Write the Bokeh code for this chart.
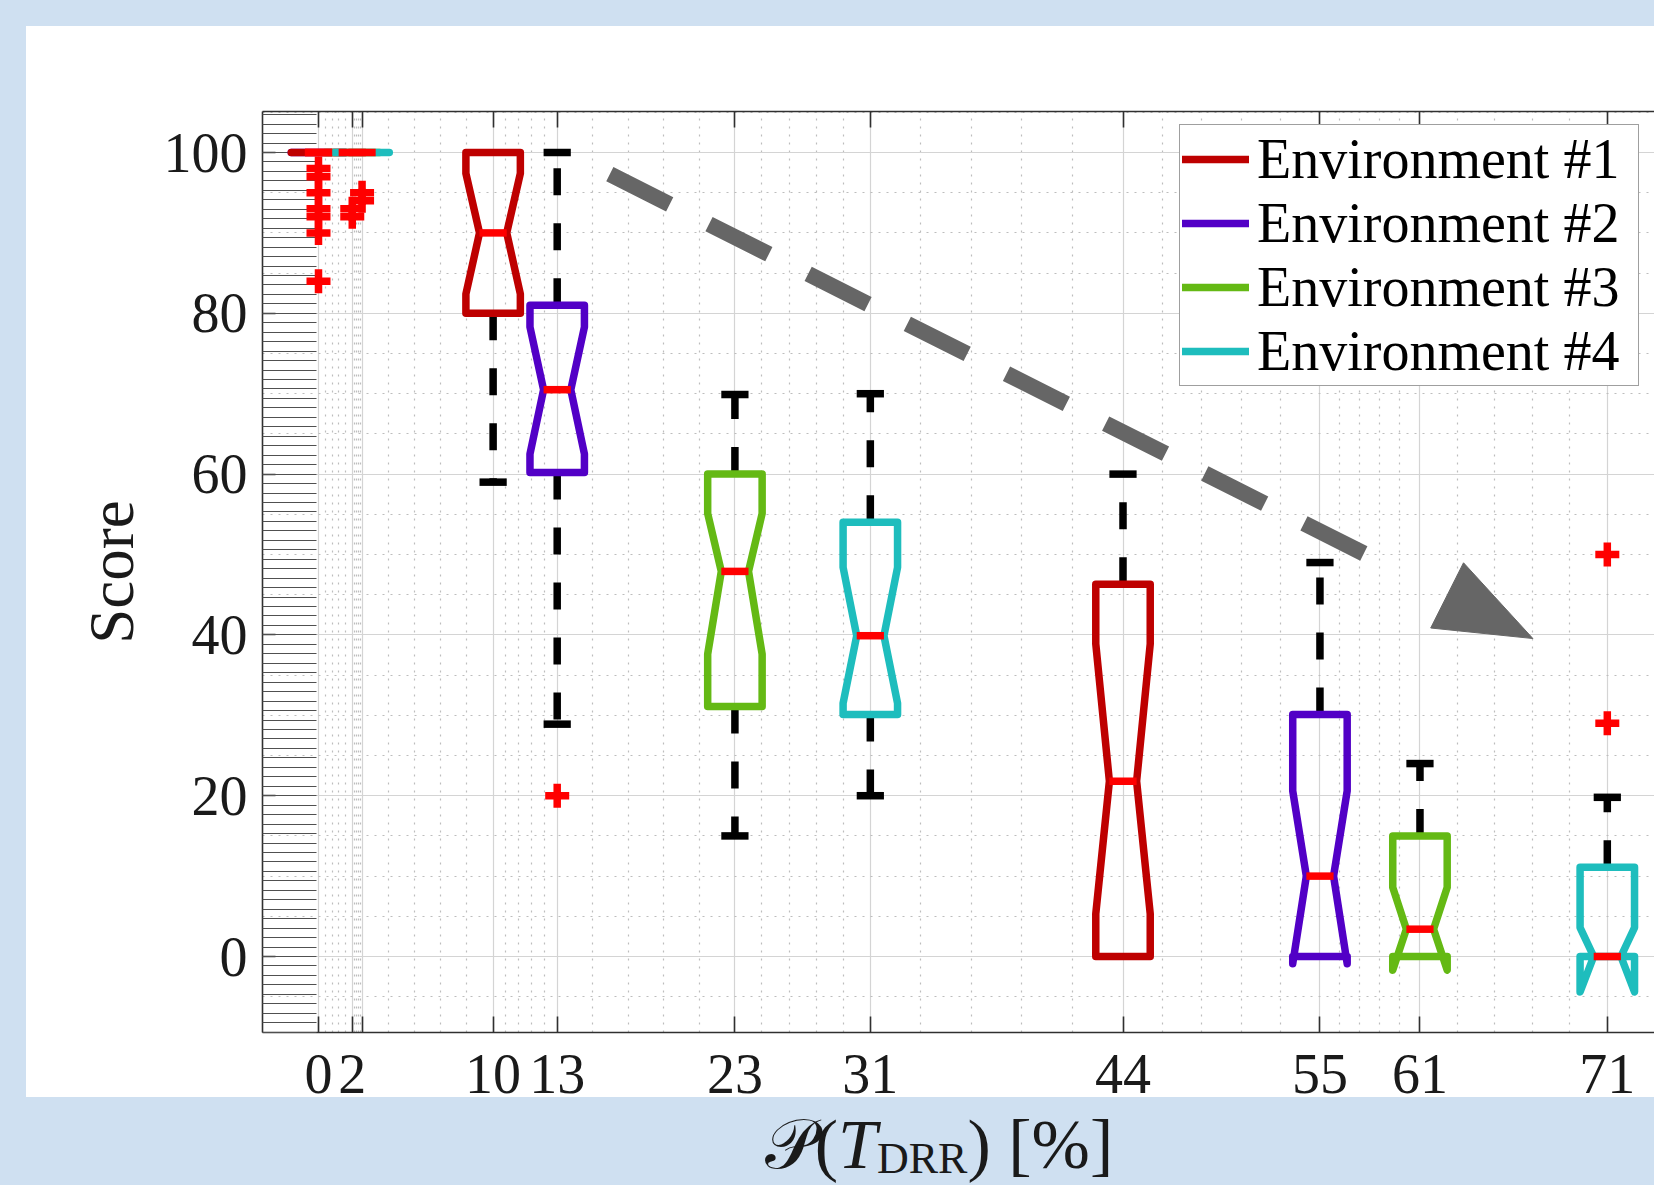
import math
from bokeh.plotting import figure
from bokeh.layouts import column
from bokeh.models import (Range1d, FixedTicker, SingleIntervalTicker, LinearAxis, Legend,
                          LegendItem, Arrow, ColumnDataSource, Div)
from bokeh.embed import file_html
from bokeh.resources import INLINE

# ---------------- data ----------------
env_names = ["Environment #1", "Environment #2", "Environment #3", "Environment #4"]
env_colors = ["#BE0000", "#5200C6", "#64B914", "#1EBDBD"]

tick_pos = [0.0, 1.86, 2.4, 9.62, 13.15, 22.94, 30.4, 44.32, 55.17, 60.68, 71.0]
tick_labels = ["0", "2", "", "10", "13", "23", "31", "44", "55", "61", "71"]

box_env = [1, 0, 2, 3, 0, 1, 2, 3, 0, 1, 2, 3]
box_x = [0.0, 0.0, 1.86, 2.4, 9.62, 13.15, 22.94, 30.4, 44.32, 55.17, 60.68, 71.0]
box_q1 = [100, 100, 100, 100, 80.0, 60.2, 31.1, 30.1, 0.0, 0.0, 0.0, 0.0]
box_q3 = [100, 100, 100, 100, 100.0, 81.0, 60.0, 54.0, 46.3, 30.1, 15.0, 11.1]
box_med = [100, 100, 100, 100, 90.0, 70.5, 47.9, 39.9, 21.8, 10.0, 3.4, 0.0]
notch_lo = [100, 100, 100, 100, 82.4, 62.5, 37.6, 31.5, 5.3, -0.9, -1.7, -4.4]
notch_hi = [100, 100, 100, 100, 97.4, 78.3, 55.1, 48.4, 38.9, 20.6, 8.6, 3.6]
whisk_lo = [100, 100, 100, 100, 59.0, 28.9, 15.0, 20.0, 0.0, 0.0, 0.0, 0.0]
whisk_hi = [100, 100, 100, 100, 100.0, 100.0, 69.9, 70.0, 60.0, 49.0, 24.0, 19.8]

out_x = [0.0, 0.0, 0.0, 0.0, 0.0, 0.0, 0.0, 1.86, 1.86, 2.4, 2.4, 13.15, 71.0, 71.0]
out_y = [98, 97, 95, 93, 92, 90, 84, 93, 92, 95, 94, 20, 29, 50]

arrow_from = (16.05, 97.3)
arrow_to = (66.9, 39.55)
ARROW_SHAFT_FRAC = 0.817   # dashed shaft stops short of the head
HEAD_LEN, HEAD_HALF_W = 96.0, 36.5   # screen px

BOX_W = 3.0
NOTCH_W = 1.5
CAP_W = 1.5

X0, X1 = -3.085, 73.6
Y0, Y1 = -9.45, 105.1
FRAME_L, FRAME_T, FRAME_B, W, H = 262, 111, 1032, 1654, 1185
FIG_H = 1122

FONT = "Liberation Serif"

# ---------------- figure ----------------
p = figure(width=W, height=FIG_H, output_backend="svg", toolbar_location=None,
           x_range=Range1d(X0, X1), y_range=Range1d(Y0, Y1),
           min_border_left=FRAME_L, min_border_right=0, min_border_top=FRAME_T,
           min_border_bottom=FIG_H - FRAME_B,
           background_fill_color="white", border_fill_alpha=0.0,
           outline_line_color=None)

# tickers
minor_x = []
for a, b in zip(tick_pos[:-1], tick_pos[1:]):
    minor_x += [a + (b - a) * k / 5.0 for k in range(1, 5)]
xticker = FixedTicker(ticks=tick_pos, minor_ticks=minor_x)

xa = p.xaxis[0]
xa.ticker = xticker
xa.major_label_overrides = {t: l for t, l in zip(tick_pos, tick_labels)}
ya = p.yaxis[0]
ya.ticker = SingleIntervalTicker(interval=20, num_minor_ticks=17)

for ax in (xa, ya):
    ax.axis_line_color = "#303030"
    ax.axis_line_width = 1.6
    ax.major_tick_line_color = "#303030"
    ax.major_tick_line_width = 1.6
    ax.major_tick_out = 0
    ax.minor_tick_out = 0
    ax.major_label_text_font = FONT
    ax.major_label_text_font_size = "56px"
    ax.major_label_text_color = "#1a1a1a"
    ax.axis_label_text_font = FONT
    ax.axis_label_text_font_style = "normal"
    ax.axis_label_text_color = "#1a1a1a"

xa.major_tick_in = 16
xa.minor_tick_in = 0
xa.major_label_standoff = 22
ya.major_tick_in = 13
ya.minor_tick_in = 54
ya.minor_tick_line_color = "#505050"
ya.minor_tick_line_width = 1.2
ya.major_label_standoff = 15
ya.axis_label = "Score"
ya.axis_label_text_font_size = "63px"
ya.axis_label_standoff = 14

top = LinearAxis(ticker=xticker, major_tick_in=16, major_tick_out=0, minor_tick_in=0,
                 minor_tick_out=0, axis_line_color="#303030", axis_line_width=1.6,
                 major_tick_line_color="#303030", major_tick_line_width=1.6,
                 major_label_overrides={t: "" for t in tick_pos})
p.add_layout(top, "above")

# grids
p.xgrid.ticker = xticker
p.ygrid.ticker = SingleIntervalTicker(interval=20, num_minor_ticks=4)
for g in (p.xgrid[0], p.ygrid[0]):
    g.grid_line_color = "#d4d4d4"
    g.grid_line_width = 1.2
    g.minor_grid_line_color = "#bdbdbd"
    g.minor_grid_line_width = 1.2
    g.minor_grid_line_dash = "2 6"

# ---------------- boxes ----------------
hw, nw, cw = BOX_W / 2, NOTCH_W / 2, CAP_W / 2
bxs, bys, bcol = [], [], []
mx0, mx1, my = [], [], []
wx, wy0, wy1 = [], [], []
cx0, cx1, cy = [], [], []
for e, x, q1, q3, md, nl, nh, lo, hi in zip(box_env, box_x, box_q1, box_q3, box_med,
                                            notch_lo, notch_hi, whisk_lo, whisk_hi):
    bxs.append([x - hw, x - hw, x - nw, x - hw, x - hw, x + hw, x + hw, x + nw, x + hw, x + hw, x - hw])
    bys.append([q1, nl, md, nh, q3, q3, nh, md, nl, q1, q1])
    bcol.append(env_colors[e])
    mx0.append(x - nw); mx1.append(x + nw); my.append(md)
    if hi > q3:
        wx.append(x); wy0.append(q3); wy1.append(hi)
        cx0.append(x - cw); cx1.append(x + cw); cy.append(hi)
    if lo < q1:
        wx.append(x); wy0.append(q1); wy1.append(lo)
        cx0.append(x - cw); cx1.append(x + cw); cy.append(lo)

LW = 7.5
p.segment(x0=wx, y0=wy0, x1=wx, y1=wy1, line_color="black", line_width=LW,
          line_dash="27 28", level="overlay")
p.segment(x0=cx0, y0=cy, x1=cx1, y1=cy, line_color="black", line_width=LW, level="overlay")

box_src = ColumnDataSource(dict(xs=bxs, ys=bys, color=bcol))
boxes = p.multi_line(xs="xs", ys="ys", line_color="color", line_width=LW, source=box_src,
                     line_join="round", line_cap="round", level="overlay")
p.segment(x0=mx0, y0=my, x1=mx1, y1=my, line_color="#ff0000", line_width=LW, level="overlay")
p.scatter(out_x, out_y, marker="cross", size=24, line_width=7.5, line_color="#ff0000", level="overlay")

# ---------------- legend ----------------
items = []
for k, name in enumerate(env_names):
    idx = box_env.index(k)
    items.append(LegendItem(label=name, renderers=[boxes], index=idx))
LEG_L, LEG_R, LEG_B = 1179, 1637, 386
legend = Legend(items=items, location=(LEG_L - FRAME_L, FRAME_B - LEG_B),
                label_text_font=FONT, label_text_font_size="56px", label_text_color="black",
                glyph_width=67, glyph_height=30, label_standoff=8, spacing=0, padding=2,
                label_width=(LEG_R - LEG_L) - 4 - 67 - 8,
                margin=0, border_line_color="#404040", border_line_width=1.5,
                background_fill_color="white", background_fill_alpha=1.0)
p.add_layout(legend)

# ---------------- arrow (dashed shaft + filled head) ----------------
sxu = (W - FRAME_L) / (X1 - X0)          # px per x unit
syu = (FRAME_B - FRAME_T) / (Y1 - Y0)    # px per y unit
sx_end = arrow_from[0] + ARROW_SHAFT_FRAC * (arrow_to[0] - arrow_from[0])
sy_end = arrow_from[1] + ARROW_SHAFT_FRAC * (arrow_to[1] - arrow_from[1])
p.add_layout(Arrow(x_start=arrow_from[0], y_start=arrow_from[1], x_end=sx_end, y_end=sy_end,
                   line_color="#666666", line_width=16, line_dash="67 44", end=None))

dpx = (arrow_to[0] - arrow_from[0]) * sxu
dpy = -(arrow_to[1] - arrow_from[1]) * syu
L = math.hypot(dpx, dpy)
ux, uy = dpx / L, dpy / L
nx, ny = -uy, ux
head_px = [(0.0, 0.0),
           (-HEAD_LEN * ux + HEAD_HALF_W * nx, -HEAD_LEN * uy + HEAD_HALF_W * ny),
           (-HEAD_LEN * ux - HEAD_HALF_W * nx, -HEAD_LEN * uy - HEAD_HALF_W * ny)]
head_x = [arrow_to[0] + ox / sxu for ox, oy in head_px]
head_y = [arrow_to[1] - oy / syu for ox, oy in head_px]
p.patch(head_x, head_y, fill_color="#666666", line_color="#666666", line_width=1, level="overlay")

# ---------------- x-axis title (real HTML text under the white panel) ----------------
title_html = (
    '<div style="margin-left:634px; width:600px; text-align:center; white-space:nowrap; '
    'margin-top:-17px; font-family:\'Liberation Serif\',serif; font-size:70px; line-height:70px; '
    'color:#1a1a1a;">\U0001D4AB(<i>T</i><span style="font-size:44px; position:relative; top:5px;">'
    'DRR</span>)&nbsp;[%]</div>'
)
div = Div(text=title_html, width=W, height=H - FIG_H, styles={"overflow": "visible"})

lay = column(p, div, spacing=0, width=W, height=H,
             styles={"background": "linear-gradient(#ffffff, #ffffff) 26px 26px / 1628px 1071px no-repeat, #cfe0f1"})

open("out.html", "w").write(file_html(lay, INLINE))
